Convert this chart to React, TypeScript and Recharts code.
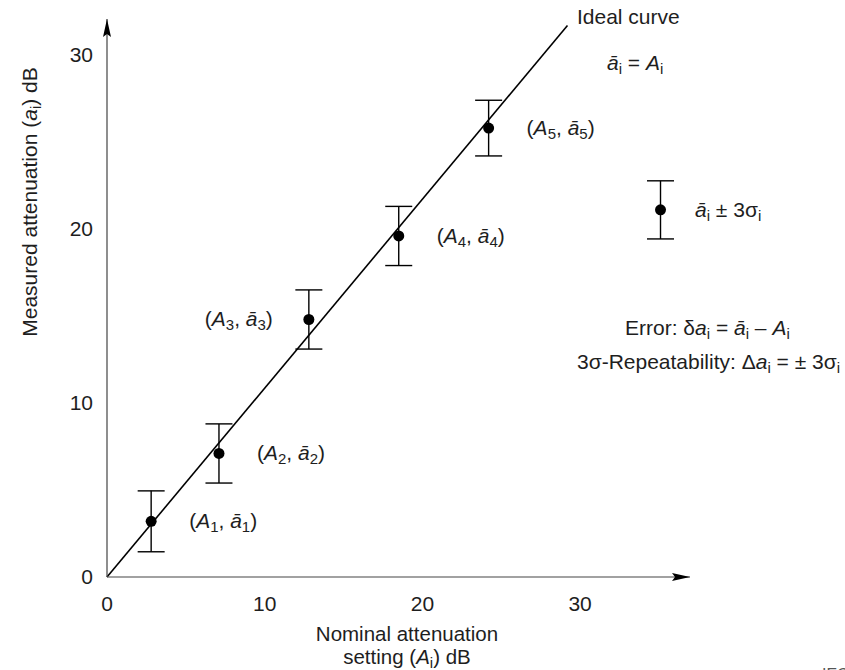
import React from 'react';
import { ErrorBar, ReferenceLine, Scatter, ScatterChart, XAxis, YAxis } from 'recharts';

// nominal setting A_i, measured mean a_i, 3-sigma spread
const nominal = [2.8, 7.1, 12.8, 18.5, 24.2];
const measured = [3.2, 7.1, 14.8, 19.6, 25.8];
const repeat3Sigma = [1.75, 1.7, 1.7, 1.7, 1.6];
const xTicks = [0, 10, 20, 30];
const yTicks = [0, 10, 20, 30];
const idealCurve = [
  { A: 0, a: 0 },
  { A: 29.2, a: 31.7 },
];
const legendPoint = [{ A: 35.1, a: 21.1, err: 1.67 }];

const points = nominal.map((A, i) => ({ A, a: measured[i], err: repeat3Sigma[i], n: i + 1 }));
const labelOnLeft = [false, false, true, false, false];

const INK = '#1e1e1e';

type Part = [string, string?];

function Rich({ x, y, parts, anchor = 'start', size = 21 }: { x: number; y: number; parts: Part[]; anchor?: string; size?: number }) {
  let shifted = false;
  const spans = parts.map(([t, k = ''], j) => {
    const sub = k.includes('s');
    let dy: number | undefined;
    if (sub && !shifted) {
      dy = 4;
      shifted = true;
    } else if (!sub && shifted) {
      dy = -4;
      shifted = false;
    }
    return (
      <tspan key={j} dy={dy} fontStyle={k.includes('i') ? 'italic' : undefined} fontSize={sub ? 15 : undefined}>
        {t}
      </tspan>
    );
  });
  return (
    <text x={x} y={y} textAnchor={anchor as any} fontSize={size} fill={INK}>
      {spans}
    </text>
  );
}

const pointLabel = (n: number): Part[] => [
  ['('],
  ['A', 'i'],
  [String(n), 's'],
  [', '],
  ['ā', 'i'],
  [String(n), 's'],
  [')'],
];

function PointShape(p: any) {
  const left = labelOnLeft[p.payload.n - 1];
  return (
    <g>
      <circle cx={p.cx} cy={p.cy} r={5.5} fill='#000' />
      <Rich x={left ? p.cx - 36 : p.cx + 38} y={p.cy + 7} anchor={left ? 'end' : 'start'} parts={pointLabel(p.payload.n)} />
    </g>
  );
}

function LegendShape(p: any) {
  return <circle cx={p.cx} cy={p.cy} r={5.5} fill='#000' />;
}

export default function App() {
  return (
    <div style={{ position: 'absolute', left: 0, top: 0, fontFamily: '"Liberation Sans", Arial, sans-serif' }}>
      <ScatterChart width={845} height={670} margin={{ top: 19, right: 155, bottom: 63, left: 47 }}>
        <defs>
          <marker id='arrowHead' viewBox='0 0 18 8' refX={18} refY={4} markerWidth={18} markerHeight={8} markerUnits='userSpaceOnUse' orient='auto-start-reverse'>
            <path d='M0,0 L18,4 L0,8 L3,4 z' fill='#000' />
          </marker>
        </defs>
        <XAxis
          type='number'
          dataKey='A'
          domain={[0, 36.97]}
          ticks={xTicks}
          allowDataOverflow
          height={30}
          tickLine={false}
          tickSize={6}
          tickMargin={13}
          axisLine={{ stroke: '#444', strokeWidth: 1.2, markerEnd: 'url(#arrowHead)' }}
          tick={{ fontSize: 21, fill: INK }}
        />
        <YAxis
          type='number'
          dataKey='a'
          domain={[0, 32.07]}
          ticks={yTicks}
          allowDataOverflow
          width={60}
          tickLine={false}
          tickSize={6}
          tickMargin={8}
          axisLine={{ stroke: '#444', strokeWidth: 1.2, markerStart: 'url(#arrowHead)' }}
          tick={{ fontSize: 21, fill: INK }}
        />
        <ReferenceLine
          segment={[
            { x: idealCurve[0].A, y: idealCurve[0].a },
            { x: idealCurve[1].A, y: idealCurve[1].a },
          ]}
          stroke='#000'
          strokeWidth={1.6}
          ifOverflow='visible'
        />
        <Scatter data={points} shape={PointShape} isAnimationActive={false}>
          <ErrorBar dataKey='err' direction='y' width={13.5} stroke='#000' strokeWidth={1.4} isAnimationActive={false} />
        </Scatter>
        <Scatter data={legendPoint} shape={LegendShape} isAnimationActive={false}>
          <ErrorBar dataKey='err' direction='y' width={13.5} stroke='#000' strokeWidth={1.4} isAnimationActive={false} />
        </Scatter>

        <Rich x={577} y={24} parts={[['Ideal curve']]} />
        <Rich x={607} y={70} parts={[['ā', 'i'], ['i', 's'], [' = '], ['A', 'i'], ['i', 's']]} />
        <Rich x={695} y={217} parts={[['ā', 'i'], ['i', 's'], [' ± 3σ'], ['i', 's']]} />
        <Rich
          x={625}
          y={335}
          parts={[['Error: δ'], ['a', 'i'], ['i', 's'], [' = '], ['ā', 'i'], ['i', 's'], [' – '], ['A', 'i'], ['i', 's']]}
        />
        <Rich x={577} y={369} parts={[['3σ-Repeatability: Δ'], ['a', 'i'], ['i', 's'], [' = ± 3σ'], ['i', 's']]} />
        <Rich x={407} y={641} anchor='middle' size={20.5} parts={[['Nominal attenuation']]} />
        <Rich x={407} y={664} anchor='middle' size={20.5} parts={[['setting ('], ['A', 'i'], ['i', 's'], [') dB']]} />
        <g transform='translate(37,202) rotate(-90)'>
          <Rich x={0} y={0} anchor='middle' parts={[['Measured attenuation ('], ['a', 'i'], ['i', 's'], [') dB']]} />
        </g>
        <text x={822} y={680} fontSize={16} fill='#555'>
          IEC
        </text>
      </ScatterChart>
    </div>
  );
}
